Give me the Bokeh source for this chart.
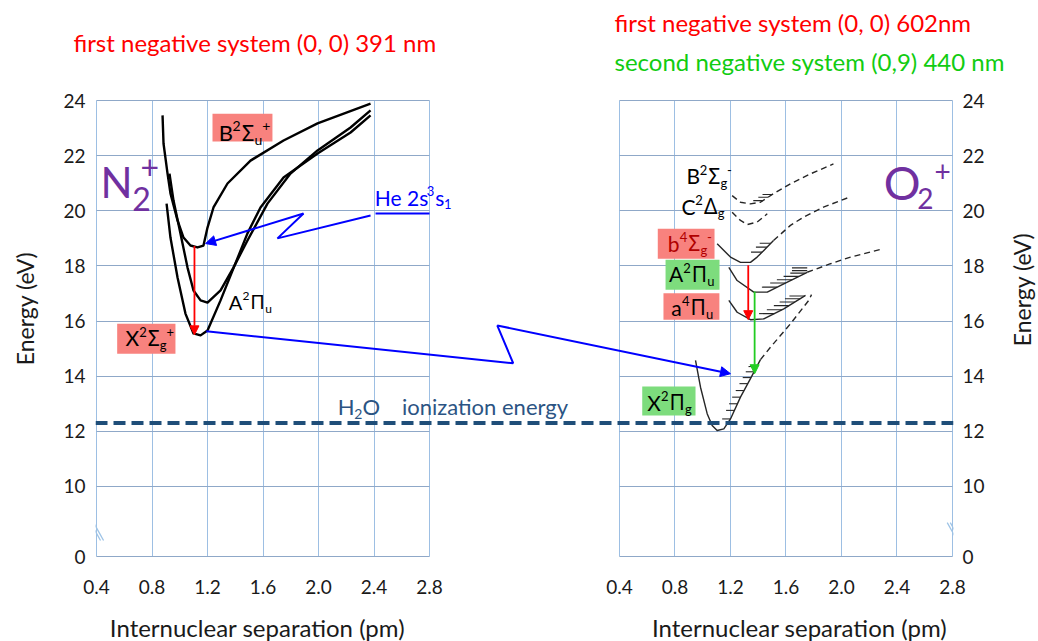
import math
import numpy as np
from bokeh.plotting import figure
from bokeh.models import (Label, Arrow, NormalHead, Span, FixedTicker, CustomJSTickFormatter,
                          LinearAxis, Grid, Range1d)
from bokeh.core.properties import value
from bokeh.embed import file_html
from bokeh.resources import INLINE

# ---------------- axes / ticks ----------------
X_TICKS = [0.4, 0.8, 1.2, 1.6, 2.0, 2.4, 2.8]
Y_TICKS = [10, 12, 14, 16, 18, 20, 22, 24]
Y_ZERO = 7.46          # where the "0" label sits below the axis break
OFF = 3.769            # x shift of the right (O2+) panel inside the shared x scale

# ---------------- N2+ potential curves (left panel) ----------------
n2_B_x = [0.876, 0.883, 0.912, 0.933, 0.984, 1.027, 1.077, 1.128, 1.171, 1.200, 1.243, 1.344, 1.510, 1.748, 1.993, 2.375]
n2_B_y = [23.46, 22.44, 21.35, 20.63, 19.65, 19.03, 18.74, 18.67, 18.74, 19.39, 20.12, 20.99, 21.82, 22.55, 23.17, 23.89]
n2_A_x = [0.926, 0.955, 1.005, 1.056, 1.099, 1.150, 1.200, 1.294, 1.387, 1.488, 1.632, 1.798, 1.993, 2.231, 2.375]
n2_A_y = [21.35, 20.37, 19.18, 17.94, 17.11, 16.75, 16.67, 17.11, 17.94, 18.92, 20.26, 21.35, 22.19, 23.02, 23.64]
n2_X_x = [0.905, 0.933, 0.984, 1.041, 1.099, 1.150, 1.200, 1.294, 1.488, 1.582, 1.748, 1.993, 2.231, 2.375]
n2_X_y = [20.26, 19.03, 17.58, 16.27, 15.55, 15.48, 15.66, 16.75, 19.18, 20.12, 21.21, 22.08, 22.84, 23.46]
n2_trans_x = 1.106
n2_trans_y = [18.72, 15.50]

# ---------------- O2+ potential curves (right panel, own x values) ----------------
o2_B_x = [1.212, 1.272, 1.344, 1.416, 1.510, 1.632, 1.777, 1.942]
o2_B_y = [20.55, 20.31, 20.25, 20.31, 20.62, 20.98, 21.34, 21.70]
o2_C_x = [1.212, 1.272, 1.320, 1.392, 1.465]
o2_C_y = [19.95, 19.65, 19.50, 19.59, 19.89]
o2_b_x = [1.104, 1.200, 1.272, 1.344, 1.392, 1.440, 1.510]
o2_b_y = [18.80, 18.32, 18.13, 18.13, 18.32, 18.56, 18.92]
o2_b_dash_x = [1.510, 1.632, 1.726, 1.870, 2.050]
o2_b_dash_y = [18.92, 19.47, 19.77, 20.13, 20.48]
o2_A_x = [1.188, 1.248, 1.368, 1.465, 1.584, 1.753]
o2_A_y = [17.95, 17.47, 17.05, 17.05, 17.35, 17.77]
o2_A_dash_x = [1.753, 1.921, 2.065, 2.281]
o2_A_dash_y = [17.77, 18.08, 18.32, 18.60]
o2_a_x = [1.188, 1.248, 1.344, 1.440, 1.584, 1.741]
o2_a_y = [16.75, 16.32, 16.05, 16.08, 16.44, 16.93]
o2_X_x = [0.948, 0.984, 1.032, 1.068, 1.104, 1.152, 1.200, 1.272, 1.344, 1.416]
o2_X_y = [14.57, 13.60, 12.64, 12.21, 12.03, 12.09, 12.45, 13.24, 13.91, 14.60]
o2_X_dash_x = [1.416, 1.488, 1.632, 1.764, 1.784]
o2_X_dash_y = [14.60, 15.05, 15.90, 16.75, 16.96]
# vibrational levels marked on the right-hand walls (eV)
o2_X_levels = [12.45, 12.76, 13.00, 13.24, 13.48, 13.73, 13.95, 14.16, 14.35]
o2_a_levels = [16.27, 16.41, 16.56, 16.69, 16.81, 16.91]
o2_A_levels = [17.23, 17.38, 17.50, 17.62, 17.74, 17.83, 17.93]
o2_b_levels = [18.50, 18.68, 18.82]
o2_B_levels = [20.37, 20.49, 20.59]
o2_first_neg_x = 1.328
o2_first_neg_y = [18.02, 16.05]
o2_second_neg_x = 1.374
o2_second_neg_y = [17.07, 14.09]

# ---------------- connectors (shared x scale) ----------------
he_path_x = [2.375, 1.704, 1.892, 1.186]
he_path_y = [19.83, 19.00, 19.90, 18.81]
he_level_x = [2.411, 2.800]
he_level_y = [19.90, 19.90]
transfer_x = [1.191, 3.403, 3.288, 4.969]
transfer_y = [15.63, 14.47, 15.84, 14.09]

H2O_IE = 12.3

# ---------------- styles ----------------
FONT = "Lato"
GREEK = "Noto Sans"
RED_BOX = "#f8827e"
GREEN_BOX = "#7ddc7d"
PURPLE = "#7030a0"
VGRID = "#9dbfe3"
HGRID = "#8fa8c8"
TXT = "#1a1a1a"
CURVE2 = "#262626"
BASE_FIX = 0.31        # baseline correction (fraction of font size) for alphabetic text

PXX = 138.75
PXY = 27.57

p = figure(width=1038, height=641, output_backend="svg", toolbar_location=None, title=None,
           x_range=Range1d(0.4 - 1 / PXX, 2.8 + OFF + 1 / PXX),
           y_range=Range1d(24 - 458 / PXY, 24 + 100 / PXY),
           min_border_left=95, min_border_right=85, min_border_top=0, min_border_bottom=83)
p.outline_line_color = None
p.grid.visible = False

all_x_ticks = X_TICKS + [t + OFF for t in X_TICKS]
y_ticks_all = [Y_ZERO] + Y_TICKS

xfmt = CustomJSTickFormatter(args=dict(off=OFF),
                             code="const v = tick > 3.2 ? tick - off : tick; return v.toFixed(1);")
yfmt = CustomJSTickFormatter(code="return tick < 9 ? '0' : tick.toFixed(0);")


def style_axis(ax):
    ax.axis_line_color = None
    ax.major_tick_line_color = None
    ax.minor_tick_line_color = None
    ax.major_tick_out = 0
    ax.major_tick_in = 0
    ax.major_label_text_font = FONT
    ax.major_label_text_font_size = "19px"
    ax.major_label_text_color = TXT


xa = p.xaxis[0]
xa.ticker = FixedTicker(ticks=all_x_ticks)
xa.formatter = xfmt
style_axis(xa)
xa.major_label_standoff = 21

ya = p.yaxis[0]
ya.ticker = FixedTicker(ticks=y_ticks_all)
ya.formatter = yfmt
style_axis(ya)
ya.major_label_standoff = 10

ya2 = LinearAxis(ticker=FixedTicker(ticks=y_ticks_all), formatter=yfmt)
style_axis(ya2)
ya2.major_label_standoff = 9
p.add_layout(ya2, "right")

has_cb = "cross_bounds" in Grid.properties()
vg = Grid(dimension=0, ticker=FixedTicker(ticks=all_x_ticks), grid_line_color=VGRID)
if has_cb:
    vg.cross_bounds = (Y_ZERO, 24)
p.add_layout(vg)
for lo, hi in [(0.4, 2.8), (0.4 + OFF, 2.8 + OFF)]:
    hg = Grid(dimension=1, ticker=FixedTicker(ticks=y_ticks_all), grid_line_color=HGRID)
    if has_cb:
        hg.cross_bounds = (lo, hi)
    p.add_layout(hg)
if not has_cb:
    p.quad(left=[2.8 + 0.01], right=[0.4 + OFF - 0.01], bottom=[Y_ZERO - 1], top=[30],
           fill_color="white", line_color=None)

# label backgrounds
p.quad(left=[1.236, 0.549], right=[1.668, 0.969], bottom=[22.51, 14.81], top=[23.52, 15.90],
       fill_color=RED_BOX, line_color=None)
p.quad(left=[4.445, 4.486], right=[4.854, 4.889], bottom=[18.258, 16.05], top=[19.346, 17.01],
       fill_color=RED_BOX, line_color=None)
p.quad(left=[4.501, 4.333], right=[4.890, 4.717], bottom=[17.137, 12.575], top=[18.222, 13.627],
       fill_color=GREEN_BOX, line_color=None)

# N2+ curves
for xs, ys in [(n2_B_x, n2_B_y), (n2_A_x, n2_A_y), (n2_X_x, n2_X_y)]:
    p.line(xs, ys, line_color="black", line_width=2.4, line_join="round")

# O2+ curves
sh = lambda xs: [v + OFF for v in xs]
for xs, ys in [(o2_b_x, o2_b_y), (o2_A_x, o2_A_y), (o2_a_x, o2_a_y), (o2_X_x, o2_X_y)]:
    p.line(sh(xs), ys, line_color=CURVE2, line_width=1.4, line_join="round")
for xs, ys in [(o2_B_x, o2_B_y), (o2_C_x, o2_C_y), (o2_b_dash_x, o2_b_dash_y),
               (o2_A_dash_x, o2_A_dash_y), (o2_X_dash_x, o2_X_dash_y)]:
    p.line(sh(xs), ys, line_color=CURVE2, line_width=1.4, line_dash="6 4")


# vibrational level marks: short strokes from the right wall into the well
def level_marks(bx, by, levels, length):
    i0 = int(np.argmin(by))
    rx, ry = np.array(bx[i0:]), np.array(by[i0:])
    xe = np.interp(levels, ry, rx) + OFF
    p.segment(x0=list(xe - length), y0=levels, x1=list(xe), y1=levels,
              line_color=CURVE2, line_width=1.1)


level_marks(o2_X_x + o2_X_dash_x[1:], o2_X_y + o2_X_dash_y[1:], o2_X_levels, 0.06)
level_marks(o2_a_x, o2_a_y, o2_a_levels, 0.11)
level_marks(o2_A_x, o2_A_y, o2_A_levels, 0.11)
level_marks(o2_b_x + o2_b_dash_x[1:], o2_b_y + o2_b_dash_y[1:], o2_b_levels, 0.08)
level_marks(o2_B_x, o2_B_y, o2_B_levels, 0.07)

# connectors
p.line(he_path_x[:-1], he_path_y[:-1], line_color="blue", line_width=2)
p.line(he_level_x, he_level_y, line_color="blue", line_width=2)
p.line(transfer_x[:-1], transfer_y[:-1], line_color="blue", line_width=2)


def arrow(x0, y0, x1, y1, color, w=2, size=10):
    p.add_layout(Arrow(end=NormalHead(size=size, fill_color=color, line_color=color),
                       x_start=x0, y_start=y0, x_end=x1, y_end=y1,
                       line_color=color, line_width=w))


arrow(he_path_x[-2], he_path_y[-2], he_path_x[-1], he_path_y[-1], "blue")
arrow(transfer_x[-2], transfer_y[-2], transfer_x[-1], transfer_y[-1], "blue")
arrow(n2_trans_x, n2_trans_y[0], n2_trans_x, n2_trans_y[1], "red", 1.8, 9)
arrow(o2_first_neg_x + OFF, o2_first_neg_y[0], o2_first_neg_x + OFF, o2_first_neg_y[1], "red", 1.8, 9)
arrow(o2_second_neg_x + OFF, o2_second_neg_y[0], o2_second_neg_x + OFF, o2_second_neg_y[1], "#22cc22", 1.8, 9)

p.add_layout(Span(location=H2O_IE, dimension="width", line_color="#1f4e79",
                  line_width=4, line_dash="12 6"))

# axis break marks
for bx in [0.357, 6.531]:
    for d in [0.0, 0.022]:
        p.add_layout(Arrow(end=None, x_start=bx + d, y_start=8.69, x_end=bx + d + 0.072, y_end=8.04,
                           line_color="#9dc3e6", line_width=1.3))

# ---------------- text helpers ----------------
WID = {'A': 0.68, 'B': 0.63, 'C': 0.66, 'H': 0.75, 'N': 0.76, 'O': 0.80, 'X': 0.65,
       'a': 0.51, 'b': 0.57, 'e': 0.53, 's': 0.42, 'u': 0.56, 'g': 0.51,
       '1': 0.58, '2': 0.58, '3': 0.58, '4': 0.58, '+': 0.58, '-': 0.37, ' ': 0.19,
       'Σ': 0.58, 'Π': 0.74, 'Δ': 0.66}


def font_for(text):
    return GREEK if any(ch in "ΣΠΔ" for ch in text) else FONT


def put(x, y, text, dx, dy, fs, color):
    p.add_layout(Label(x=x, y=y, x_offset=dx, y_offset=dy + BASE_FIX * fs, text=text,
                       text_font=font_for(text), text_font_size=f"{fs}px", text_color=color,
                       text_baseline="alphabetic", text_align="left"))


def rich(x, y, pieces, size, color="black"):
    dx = 0.0
    for piece in pieces:
        text, mode = piece[0], piece[1]
        if len(piece) > 2:
            dx += piece[2]
        if mode == "n":
            fs, dy = size, 0.0
        elif mode == "sup":
            fs, dy = round(size * 0.62), size * 0.4
        else:
            fs, dy = round(size * 0.62), -size * 0.22
        put(x, y, text, dx, dy, fs, color)
        dx += sum(WID.get(ch, 0.55) for ch in text) * fs + (1 if mode == "sup" else 0)


def rich_abs(x, y, pieces, color):
    for text, dx, dy, size in pieces:
        put(x, y, text, dx, dy, size, color)


# left panel labels
rich(1.281, 22.61, [("B", "n"), ("2", "sup"), ("Σ", "n"), ("u", "sub"), ("+", "sup")], 22)
rich(0.609, 15.15, [("X", "n"), ("2", "sup"), ("Σ", "n"), ("g", "sub"), ("+", "sup")], 21)
rich(1.3535, 16.48, [("A", "n"), ("2", "sup"), ("Π", "n"), ("u", "sub")], 20)
rich_abs(0.429, 20.555, [("N", 0, 0, 42), ("2", 31.7, -13.3, 32), ("+", 40, 18.6, 32)], PURPLE)
rich(2.406, 20.253, [("He 2s", "n"), ("3", "sup"), ("s", "n"), ("1", "sub")], 21, "blue")
rich(2.139, 12.658, [("H", "n"), ("2", "sub"), ("O", "n"), ("ionization energy", "n", 22)], 22, "#2b5483")

# right panel labels
rich(4.652, 21.037, [("B", "n"), ("2", "sup"), ("Σ", "n"), ("g", "sub"), ("-", "sup")], 21)
rich(4.616, 19.927, [("C", "n"), ("2", "sup"), ("Δ", "n"), ("g", "sub")], 21)
rich(4.517, 18.585, [("b", "n"), ("4", "sup"), ("Σ", "n"), ("g", "sub"), ("-", "sup")], 21, "#b00000")
rich(4.525, 17.471, [("A", "n"), ("2", "sup"), ("Π", "n"), ("u", "sub")], 21)
rich(4.542, 16.263, [("a", "n"), ("4", "sup"), ("Π", "n"), ("u", "sub")], 21)
rich(4.369, 12.818, [("X", "n"), ("2", "sup"), ("Π", "n"), ("g", "sub")], 21)
rich_abs(6.074, 20.493, [("O", 0, 0, 46), ("2", 33.4, -10, 28), ("+", 50.7, 16.7, 28)], PURPLE)


# ---------------- texts around the panels (overlay level, not clipped to the frame) ----------------
def outer(x, y, text, size, color, align="left", angle=0.0, baseline="alphabetic"):
    if baseline == "alphabetic":
        y = y + BASE_FIX * size / PXY
    p.text(x=[x], y=[y], text=[text], text_font=value(FONT), text_font_size=value(f"{size}px"),
           text_color=color, text_align=align, text_baseline=baseline, angle=angle,
           level="overlay")


outer(0.234, 25.85, "first negative system  (0, 0) 391 nm", 24, "#ff0000")
outer(4.133, 26.56, "first negative system  (0, 0) 602nm", 24, "#ff0000")
outer(4.133, 25.16, "second negative system (0,9) 440 nm", 24, "#11cc11")
outer(1.560, 4.62, "Internuclear separation (pm)", 24, TXT, "center")
outer(5.467, 4.62, "Internuclear separation (pm)", 24, TXT, "center")
outer(-0.112, 16.456, "Energy (eV)", 23, TXT, "center", math.pi / 2, "middle")
outer(7.067, 17.145, "Energy (eV)", 23, TXT, "center", math.pi / 2, "middle")

open("out.html", "w").write(file_html(p, INLINE))
